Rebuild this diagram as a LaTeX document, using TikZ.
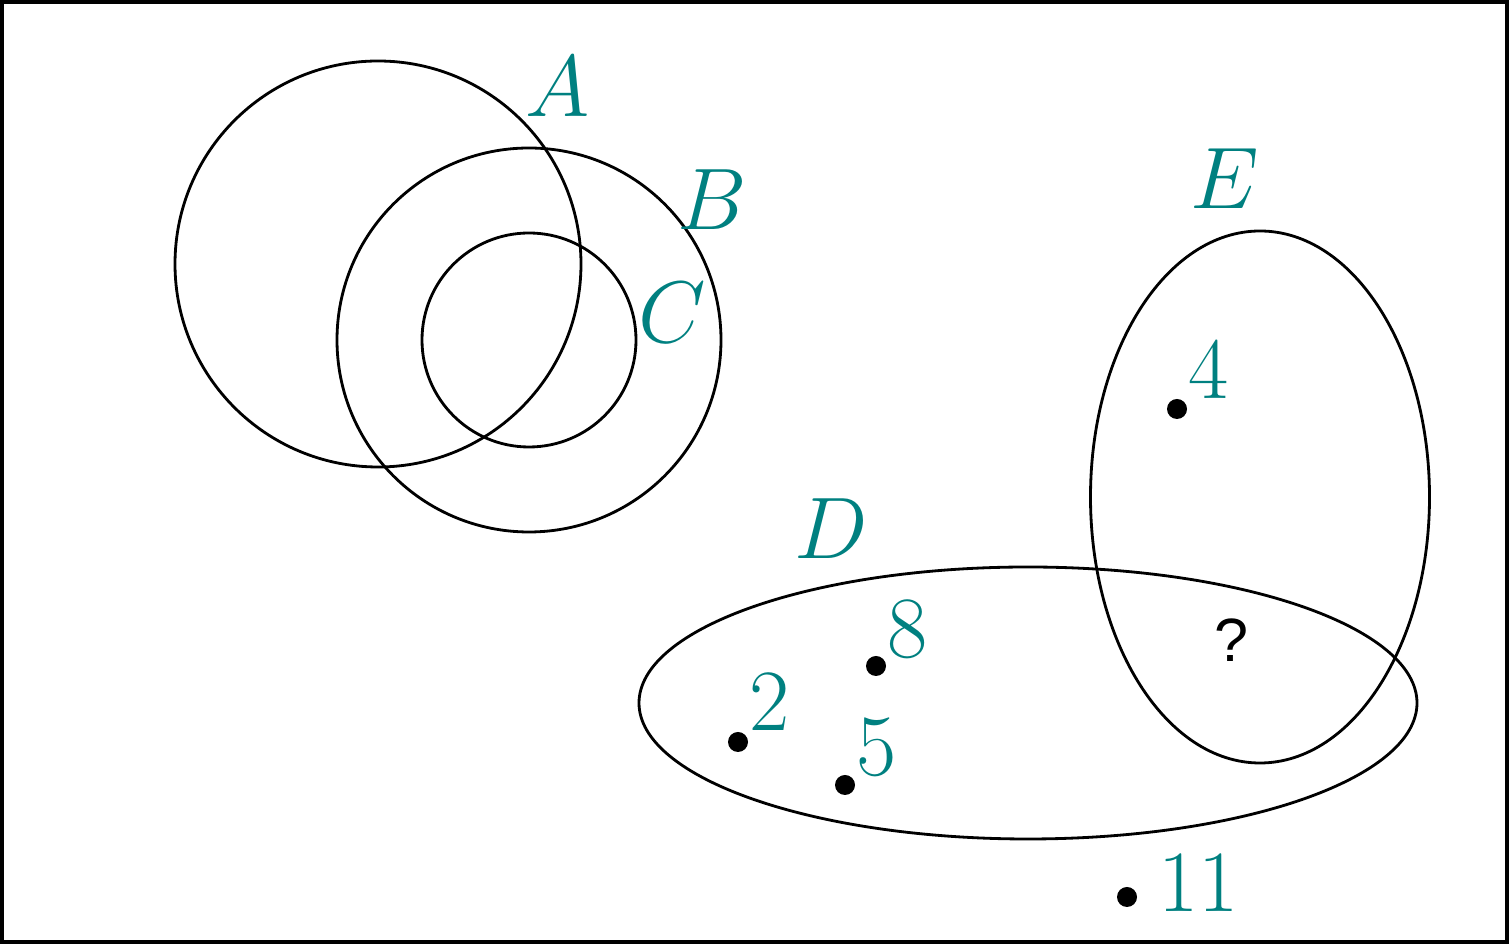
\documentclass[tikz,border=0pt]{standalone}
\usepackage{fontspec}
\usepackage{tikz}
\usetikzlibrary{positioning,calc}
\newfontfamily\qfont{Liberation Sans}
\definecolor{setteal}{RGB}{0,128,128}

\begin{document}
\begin{tikzpicture}[
  setline/.style={line width=0.8pt,color=black},
  setname/.style={color=setteal,inner sep=0pt,
    font=\fontsize{23.7}{28}\selectfont},
  elem/.style={circle,fill=black,inner sep=0pt,minimum size=0.2cm},
  elemlabel/.style={color=setteal,inner sep=0pt,
    font=\fontsize{23.7}{28}\selectfont}]
\useasboundingbox (0,0) rectangle (15.09,9.44);
\draw[line width=1.1pt] (0.02,0.02) rectangle (15.07,9.42);
\draw[setline] (3.78,6.80) circle (2.03);
\draw[setline] (5.29,6.04) circle (1.92);
\draw[setline] (5.29,6.04) circle (1.07);
\draw[setline] (10.28,2.41) ellipse (3.89 and 1.36);
\draw[setline] (12.60,4.47) ellipse (1.695 and 2.66);
\node[setname] (nameA) at (5.58,8.57) {$A$};
\node[setname] (nameB) at (7.12,7.44) {$B$};
\node[setname] (nameC) at (6.72,6.31) {$C$};
\node[setname] (nameD) at (8.31,4.15) {$D$};
\node[setname] (nameE) at (12.25,7.65) {$E$};
\node[elem] (four) at (11.77,5.35) {};
\node[elem] (eight) at (8.76,2.78) {};
\node[elem] (two) at (7.38,2.02) {};
\node[elem] (five) at (8.45,1.59) {};
\node[elem] (eleven) at (11.27,0.47) {};
\node[elemlabel] at ($(four)+(0.32,0.39)$) {$4$};
\node[elemlabel] at ($(eight)+(0.32,0.37)$) {$8$};
\node[elemlabel] at ($(two)+(0.32,0.40)$) {$2$};
\node[elemlabel] at ($(five)+(0.32,0.38)$) {$5$};
\node[elemlabel] at ($(eleven)+(0.72,0.14)$) {$11$};
\node[inner sep=0pt,font=\qfont\fontsize{17.4}{20}\selectfont]
  (unknown) at (12.31,3.04) {?};
\end{tikzpicture}
\end{document}
